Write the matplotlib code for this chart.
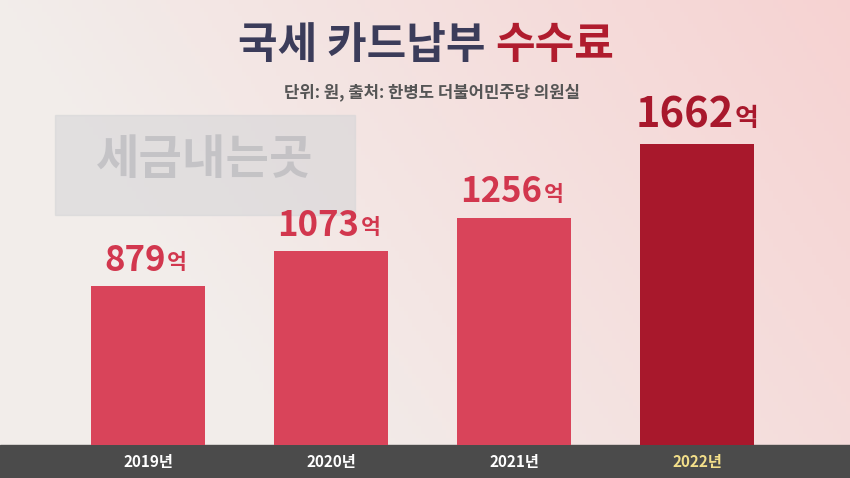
import numpy as np
import matplotlib
matplotlib.use("Agg")
import matplotlib.pyplot as plt

years = ["2019년", "2020년", "2021년", "2022년"]
values = [879, 1073, 1256, 1662]
value_labels = ["879", "1073", "1256", "1662"]
title_a = "국세 카드납부 "
title_b = "수수료"
subtitle = "단위: 원, 출처: 한병도 더불어민주당 의원실"

FONT = ["Noto Sans CJK KR", "Noto Sans CJK JP", "Noto Sans CJK SC", "Noto Sans CJK TC", "DejaVu Sans"]
W, H = 850, 478
fig = plt.figure(figsize=(8.5, 4.78), dpi=100)

bg = fig.add_axes([0, 0, 1, 1])
xx = np.linspace(0, 1, 200)[None, :]
yy = np.linspace(0, 1, 120)[:, None]
base = np.array([0.95, 0.93, 0.92])
pink = np.array([0.97, 0.80, 0.80])
t = np.clip(xx * 0.8 + (1 - yy) * 0.3 - 0.3, 0, 1)
img = base[None, None, :] * (1 - t[..., None]) + pink[None, None, :] * t[..., None]
bg.imshow(img, extent=[0, 1, 0, 1], aspect="auto", origin="upper")
bg.add_patch(plt.Rectangle((0, 0), 1, 33 / H, color="#4b4b4b"))
bg.add_patch(plt.Rectangle((55 / W, 1 - 215 / H), 300 / W, 100 / H, color="#d6d6d8", alpha=0.6))
bg.text(205 / W, 1 - 160 / H, "세금내는곳", fontfamily=FONT, fontsize=34, fontweight="bold",
        color="#b8b8bc", alpha=0.7, ha="center", va="center")
bg.set_xlim(0, 1); bg.set_ylim(0, 1); bg.axis("off")

ax = fig.add_axes([0, 33 / H, 1, 445 / H])
ax.patch.set_alpha(0)
x = np.arange(len(values))
colors = ["#d9445a", "#d9445a", "#d9445a", "#a8182c"]
ax.bar(x, values, width=0.62, color=colors)
ax.set_xlim(-0.809, 3.836)
ax.set_ylim(0, 2460)
ax.axis("off")
fig.canvas.draw()
r = fig.canvas.get_renderer()
for i, (v, lab) in enumerate(zip(values, value_labels)):
    big = 30 if i == 3 else 25
    col = "#a8182c" if i == 3 else "#d2374e"
    tn = ax.annotate(lab, (i, v), xytext=(-9, 6), textcoords="offset points", ha="center", va="bottom",
                     fontfamily=FONT, fontsize=big, fontweight="bold", color=col)
    bb = tn.get_window_extent(r)
    xr, _ = ax.transData.inverted().transform((bb.x1 + 1, 0))
    ax.annotate("억", (xr, v), xytext=(0, 9), textcoords="offset points",
                ha="left", va="bottom", fontfamily=FONT, fontsize=big * 0.62, fontweight="bold", color=col)

for i, y in enumerate(years):
    fig.text((148 + 183 * i) / W, 16 / H, y, ha="center", va="center", fontfamily=FONT,
             fontsize=11, fontweight="bold", color="#f3df8a" if i == 3 else "white")

fig.text(0.5 + 70 / W, 1 - 45 / H, title_a, fontfamily=FONT, fontsize=31, fontweight="bold",
         color="#3b3c5a", ha="right", va="center")
fig.text(0.5 + 70 / W, 1 - 45 / H, title_b, fontfamily=FONT, fontsize=31, fontweight="bold",
         color="#b01c2e", ha="left", va="center")
fig.text(580 / W, 1 - 92 / H, subtitle, fontfamily=FONT, fontsize=12, fontweight="bold",
         color="#555555", ha="right", va="center")

fig.savefig("out.png", dpi=100)
